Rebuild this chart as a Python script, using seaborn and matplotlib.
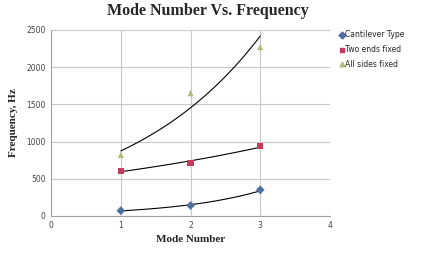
import numpy as np
import pandas as pd
import matplotlib.pyplot as plt
import seaborn as sns

# Data
modes = [1, 2, 3]
cantilever = [70, 140, 350]
two_ends = [605, 715, 940]
all_sides = [820, 1650, 2270]
series_names = ["Cantilever Type", "Two ends fixed", "All sides fixed"]
x_ticks = [0, 1, 2, 3, 4]
y_ticks = [0, 500, 1000, 1500, 2000, 2500]

df = pd.DataFrame({
    "mode": modes * 3,
    "freq": cantilever + two_ends + all_sides,
    "series": np.repeat(series_names, len(modes)),
})

sns.set_style("whitegrid")
plt.rcParams["font.family"] = ["DejaVu Sans"]

fig = plt.figure(figsize=(4.33, 2.54), dpi=100)
ax = fig.add_axes([0.118, 0.150, 0.644, 0.732])

colors = ["#4f6fa0", "#c8385a", "#aebd7a"]
markers = ["D", "s", "^"]

# exponential trendlines (like Excel)
xs = np.linspace(1, 3, 100)
for vals in [cantilever, two_ends, all_sides]:
    b, a = np.polyfit(modes, np.log(vals), 1)
    ax.plot(xs, np.exp(a + b * xs), color="black", lw=0.8, zorder=2)

sns.scatterplot(data=df, x="mode", y="freq", hue="series", style="series",
                palette=colors, markers=markers, s=20, edgecolor="none",
                ax=ax, zorder=3, legend=False)

ax.set_xlim(0, 4)
ax.set_ylim(0, 2500)
ax.set_xticks(x_ticks)
ax.set_yticks(y_ticks)
ax.tick_params(labelsize=5.5, colors="#444444", length=0, pad=4)
ax.grid(True, color="#c8c8c8", lw=0.8)
for s in ax.spines.values():
    s.set_visible(False)
ax.spines["left"].set_visible(True)
ax.spines["left"].set_color("#a0a0a0")
ax.spines["bottom"].set_visible(True)
ax.spines["bottom"].set_color("#a0a0a0")

ax.set_xlabel("Mode Number", family="Liberation Serif", fontweight="bold", fontsize=8, labelpad=3)
ax.set_ylabel("Frequency, Hz", family="Liberation Serif", fontweight="bold", fontsize=8, labelpad=6)
fig.text(0.48, 0.955, "Mode Number Vs. Frequency", family="Liberation Serif", fontweight="bold",
         fontsize=11.5, ha="center", va="center")

handles = [plt.Line2D([], [], ls="none", marker=m, color=c, markersize=3.5)
           for m, c in zip(markers, colors)]
fig.legend(handles, series_names, loc="upper left", bbox_to_anchor=(0.773, 0.895),
           frameon=False, fontsize=5.5, handletextpad=0.1, labelspacing=0.75,
           handlelength=0.8, borderpad=0)

fig.savefig("out.png", dpi=100)
